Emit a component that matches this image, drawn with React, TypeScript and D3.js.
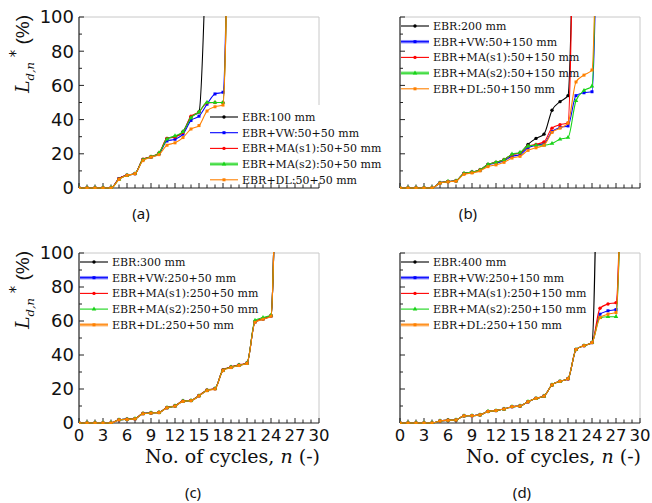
import React from "react";
import * as d3 from "d3";

const W = 652;
const H = 503;

// series order: EBR, EBR+VW, EBR+MA(s1), EBR+MA(s2), EBR+DL
const seriesColors = ["#000000", "#0000ff", "#ff0000", "#18d418", "#ff8000"];
const seriesSymbols = [d3.symbolCircle, d3.symbolSquare, d3.symbolCircle, d3.symbolTriangle, d3.symbolSquare];

const labelsA = ["EBR:100 mm", "EBR+VW:50+50 mm", "EBR+MA(s1):50+50 mm", "EBR+MA(s2):50+50 mm", "EBR+DL:50+50 mm"];
const labelsB = ["EBR:200 mm", "EBR+VW:50+150 mm", "EBR+MA(s1):50+150 mm", "EBR+MA(s2):50+150 mm", "EBR+DL:50+150 mm"];
const labelsC = ["EBR:300 mm", "EBR+VW:250+50 mm", "EBR+MA(s1):250+50 mm", "EBR+MA(s2):250+50 mm", "EBR+DL:250+50 mm"];
const labelsD = ["EBR:400 mm", "EBR+VW:250+150 mm", "EBR+MA(s1):250+150 mm", "EBR+MA(s2):250+150 mm", "EBR+DL:250+150 mm"];

// L*d,n (%) per cycle n = 0, 1, 2, ... (values > 100 = failure, clipped)
const aEBR = [0, 0, 0, 0, 0, 5.5, 7.5, 8.4, 16.6, 18.3, 20, 29, 30, 33, 41.5, 44.5, 160];
const aVW = [0, 0, 0, 0, 0, 5.5, 7.4, 8.4, 16.5, 18, 20, 27.5, 28.5, 31.5, 39.5, 42, 49, 55, 56, 300];
const aMA1 = [0, 0, 0, 0, 0, 5.5, 7.4, 8.4, 16.8, 18.3, 20.5, 29, 29.8, 32.5, 42, 44.5, 49.8, 50, 50, 300];
const aMA2 = [0, 0, 0, 0, 0, 5, 7.4, 8.4, 16.5, 18.2, 20.5, 28.5, 30.5, 33, 41, 44.5, 50, 50, 50, 300];
const aDL = [0, 0, 0, 0, 0, 5, 7.4, 8.4, 16, 18, 19.5, 25, 26.4, 29.5, 34.5, 36.5, 45, 47.5, 48.5, 300];

const bEBR = [0, 0, 0, 0, 0, 3, 3.8, 4.2, 8.5, 9.3, 10.5, 13.8, 15, 16.5, 19.5, 20.5, 25.5, 29, 31.5, 45.5, 50.5, 54, 250];
const bVW = [0, 0, 0, 0, 0, 3, 3.8, 4.2, 8.5, 9.3, 10.3, 13.5, 14.5, 16, 18.5, 19.5, 23.5, 25, 26, 33, 35.4, 36.3, 54, 55.7, 56.3, 300];
const bMA1 = [0, 0, 0, 0, 0, 3, 3.8, 4.2, 8.5, 9.3, 10.5, 13.8, 15, 16.5, 19.5, 20.5, 24.5, 25.5, 27, 35, 37, 38, 300];
const bMA2 = [0, 0, 0, 0, 0, 3, 3.8, 4.2, 8.5, 9.3, 10.5, 13.8, 15, 16.5, 19.8, 20.8, 24.5, 25, 25, 26, 28.5, 29.5, 51, 57, 59.5, 300];
const bDL = [0, 0, 0, 0, 0, 2.8, 3.6, 4, 8, 8.8, 10, 12.5, 13.5, 15, 17.5, 18.5, 22, 23.5, 25, 32.5, 35, 38, 62, 66, 69, 300];

const cEBR = [0, 0, 0, 0, 0, 1.9, 2.2, 2.5, 5.5, 5.9, 6.2, 9, 10, 12.8, 13.2, 16, 19.2, 20.2, 31, 32.8, 34, 35.2, 59.5, 61.2, 63, 300];
const cVW = [0, 0, 0, 0, 0, 1.9, 2.2, 2.5, 5.5, 5.9, 6.2, 9, 10, 12.8, 13.2, 16, 19.2, 20.2, 31, 32.8, 34, 35.2, 59.5, 61.2, 63, 300];
const cMA1 = [0, 0, 0, 0, 0, 2, 2.3, 2.6, 5.7, 6, 6.3, 9.2, 10.2, 13, 13.3, 16.2, 19.4, 20.3, 31.3, 33, 34.2, 35.3, 59.8, 61.5, 63.2, 300];
const cMA2 = [0, 0, 0, 0, 0, 1.9, 2.2, 2.5, 5.5, 5.9, 6.2, 9, 10, 12.8, 13.2, 16, 19.2, 20.2, 31, 32.8, 34, 35.2, 60.3, 62, 63.5, 300];
const cDL = [0, 0, 0, 0, 0, 1.8, 2.1, 2.4, 5.4, 5.8, 6.1, 8.9, 9.9, 12.7, 13.1, 15.9, 19, 20, 30.8, 32.6, 33.8, 35, 59.2, 61, 62.8, 300];

const dEBR = [0, 0, 0, 0, 0, 1.2, 1.6, 1.8, 4.2, 4.3, 4.8, 6.8, 7.3, 8.2, 9.6, 10, 12.5, 14.5, 15.8, 22.4, 24.5, 26, 43.2, 45.5, 47.3, 300];
const dVW = [0, 0, 0, 0, 0, 1.2, 1.6, 1.8, 4.2, 4.3, 4.8, 6.8, 7.3, 8.2, 9.6, 10, 12.5, 14.5, 15.8, 22.4, 24.5, 26, 43.2, 45.5, 47.3, 64, 66, 66.7, 250];
const dMA1 = [0, 0, 0, 0, 0, 1.2, 1.6, 1.8, 4.2, 4.3, 4.8, 6.8, 7.3, 8.2, 9.6, 10, 12.5, 14.5, 15.8, 22.4, 24.5, 26, 43.2, 45.5, 47.3, 67.5, 70, 70.8, 250];
const dMA2 = [0, 0, 0, 0, 0, 1.2, 1.6, 1.8, 4.2, 4.3, 4.8, 6.8, 7.3, 8.2, 9.6, 10, 12.5, 14.5, 15.8, 22.4, 24.5, 26, 43.2, 45.5, 47.3, 62, 62.5, 62.5, 250];
const dDL = [0, 0, 0, 0, 0, 1.2, 1.6, 1.8, 4.2, 4.3, 4.8, 6.8, 7.3, 8.2, 9.6, 10, 12.5, 14.5, 15.8, 22.4, 24.5, 26, 43.2, 45.5, 47.3, 62, 64, 65, 250];

const xTickLabels = ["0", "3", "6", "9", "12", "15", "18", "21", "24", "27", "30"];
const yTickLabels = ["0", "20", "40", "60", "80", "100"];

const panels = [
  { id: "a", x0: 79, x1: 319, y0: 17, y1: 188, data: [aEBR, aVW, aMA1, aMA2, aDL], labels: labelsA,
    legend: { x: 210, y: 117, box: [206, 105, 148, 82] }, hi: [3], yAxis: true, xAxis: false, cap: [141, 219] },
  { id: "b", x0: 400, x1: 640, y0: 17, y1: 188, data: [bEBR, bVW, bMA1, bMA2, bDL], labels: labelsB,
    legend: { x: 401, y: 26, box: [401, 18, 175, 78] }, hi: [1, 3], yAxis: false, xAxis: false, cap: [468, 219] },
  { id: "c", x0: 79, x1: 319, y0: 253, y1: 423, data: [cEBR, cVW, cMA1, cMA2, cDL], labels: labelsC,
    legend: { x: 80, y: 262, box: [80, 254, 175, 78] }, hi: [1, 4], yAxis: true, xAxis: true, cap: [193, 498] },
  { id: "d", x0: 400, x1: 640, y0: 253, y1: 423, data: [dEBR, dVW, dMA1, dMA2, dDL], labels: labelsD,
    legend: { x: 401, y: 262, box: [401, 254, 180, 78] }, hi: [1, 4], yAxis: false, xAxis: true, cap: [522, 498] },
];

const serif = "'DejaVu Serif', serif";
const sans = "'DejaVu Sans', sans-serif";

function Panel({ p }: { p: any }) {
  const x = d3.scaleLinear().domain([0, 30]).range([p.x0, p.x1]);
  const y = d3.scaleLinear().domain([0, 100]).range([p.y1, p.y0]);
  const line = d3.line<number>().x((_, i) => x(i)).y((d) => y(d)).curve(d3.curveMonotoneX);
  const clipId = `clip-${p.id}`;
  const rowGap = 15.7;
  const [bx, by, bw, bh] = p.legend.box;

  return (
    <g>
      <defs>
        <clipPath id={clipId}>
          <rect x={p.x0} y={p.y0 - 1} width={p.x1 - p.x0} height={p.y1 - p.y0 + 2} />
        </clipPath>
      </defs>
      {/* frame */}
      <line x1={p.x0} x2={p.x1} y1={p.y0} y2={p.y0} stroke="#c8c8c8" />
      <line x1={p.x1} x2={p.x1} y1={p.y0} y2={p.y1} stroke="#c8c8c8" />
      <rect x={bx} y={by} width={bw} height={bh} fill="#fff" />
      <line x1={p.x0} x2={p.x0} y1={p.y0} y2={p.y1} stroke="#222" strokeWidth={1.2} />
      <line x1={p.x0} x2={p.x1} y1={p.y1} y2={p.y1} stroke="#222" strokeWidth={1.2} />
      {y.ticks(10).map((t) => (
        <line key={"yt" + t} x1={p.x0} x2={p.x0 + (t % 20 === 0 ? 5 : 3)} y1={y(t)} y2={y(t)} stroke="#222" />
      ))}
      {x.ticks(30).map((t) => (
        <line key={"xt" + t} x1={x(t)} x2={x(t)} y1={p.y1} y2={p.y1 - (t % 3 === 0 ? 5 : 3.5)} stroke="#222" />
      ))}
      {/* series */}
      <g clipPath={`url(#${clipId})`}>
        {p.data.map((s: number[], k: number) => (
          <g key={k}>
            <path d={line(s) || ""} fill="none" stroke={seriesColors[k]} strokeWidth={1.1} />
            {s.map((v, i) => (
              <path key={i} transform={`translate(${x(i)},${y(v)})`}
                d={d3.symbol(seriesSymbols[k], 9)() || ""} fill={seriesColors[k]} />
            ))}
          </g>
        ))}
      </g>
      {/* legend */}
      {p.labels.map((lab: string, k: number) => {
        const ly = p.legend.y + k * rowGap;
        const lx = p.legend.x;
        const highlighted = p.hi.includes(k);
        return (
          <g key={"lg" + k}>
            {highlighted && (
              <line x1={lx} x2={lx + 28} y1={ly} y2={ly} stroke={seriesColors[k]} strokeOpacity={0.45} strokeWidth={3.5} />
            )}
            <line x1={lx} x2={lx + 28} y1={ly} y2={ly} stroke={seriesColors[k]} strokeWidth={1.1} />
            <path transform={`translate(${lx + 14},${ly})`} d={d3.symbol(seriesSymbols[k], 9)() || ""} fill={seriesColors[k]} />
            <text x={lx + 32} y={ly + 4} fontFamily={serif} fontSize={11} fill="#111">{lab}</text>
          </g>
        );
      })}
      {/* y axis labels */}
      {p.yAxis && yTickLabels.map((t) => (
        <text key={"yl" + t} x={p.x0 - 5} y={y(+t)} dy="0.36em" textAnchor="end" fontFamily={sans} fontSize={18} fill="#111">{t}</text>
      ))}
      {p.yAxis && (
        <text transform={`translate(29,${p.y0 + 37}) rotate(-90)`} textAnchor="middle" fill="#111">
          <tspan fontFamily={serif} fontStyle="italic" fontSize={19}>L</tspan>
          <tspan fontFamily={serif} fontStyle="italic" fontSize={11.5} dy={5}>d,n</tspan>
          <tspan fontFamily={sans} fontSize={15} dy={-13}> *</tspan>
          <tspan fontFamily="'Liberation Sans', sans-serif" fontSize={19} dy={8}> (%)</tspan>
        </text>
      )}
      {p.xAxis && xTickLabels.map((t) => (
        <text key={"xl" + t} x={x(+t)} y={p.y1 + 18} textAnchor="middle" fontFamily={sans} fontSize={16.5} fill="#111">{t}</text>
      ))}
      {p.xAxis && (
        <text x={p.x1 + 1} y={p.y1 + 40} textAnchor="end" fontFamily={serif} fontSize={19} fill="#111">
          No. of cycles, <tspan fontStyle="italic">n</tspan> (-)
        </text>
      )}
      <text x={p.cap[0]} y={p.cap[1]} textAnchor="middle" fontFamily="'Noto Sans', sans-serif" fontSize={15} fill="#111">
        ({p.id})
      </text>
    </g>
  );
}

export default function App() {
  return (
    <svg width={W} height={H} style={{ position: "absolute", left: 0, top: 0, background: "#fff" }}>
      <rect width={W} height={H} fill="#fff" />
      {panels.map((p) => (
        <Panel key={p.id} p={p} />
      ))}
    </svg>
  );
}
